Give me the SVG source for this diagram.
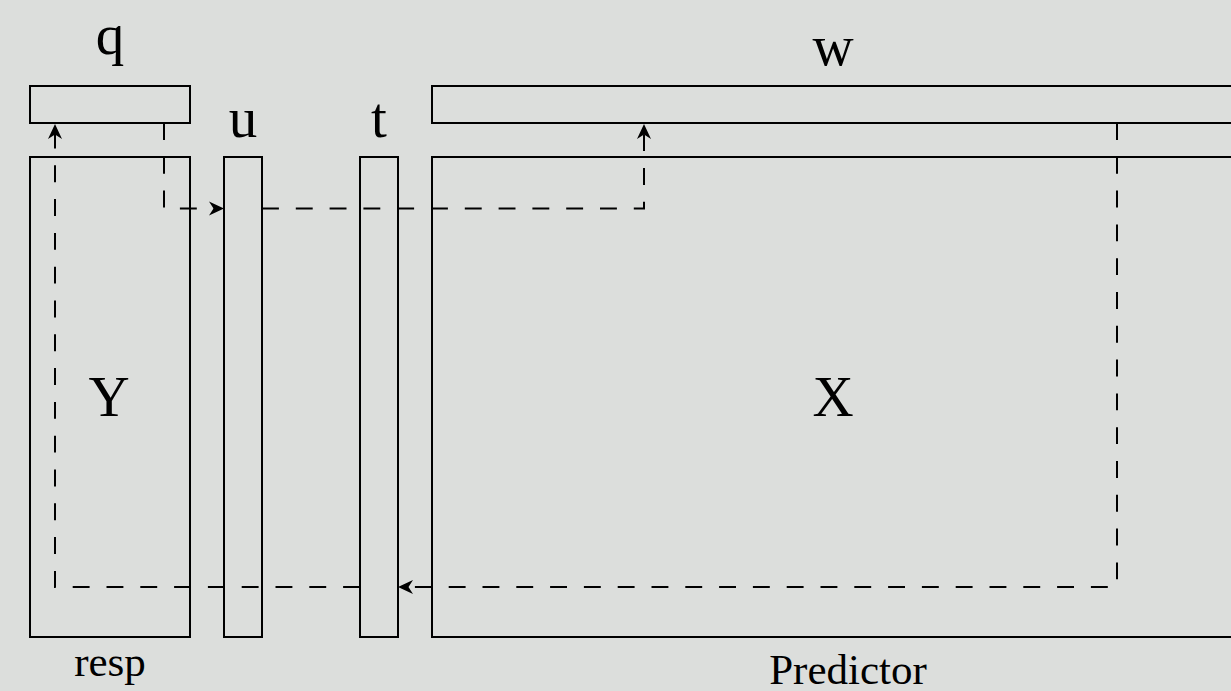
<svg xmlns="http://www.w3.org/2000/svg" width="1231" height="691" viewBox="0 0 1231 691">
<style>
.box{fill:none;stroke:#000;stroke-width:2}
.dash{fill:none;stroke:#000;stroke-width:2;stroke-dasharray:16.9 16.9}
.big{font-family:"Liberation Serif","Times New Roman",serif;font-size:57px;fill:#000;text-anchor:middle}
.small{font-family:"Liberation Serif","Times New Roman",serif;font-size:43px;fill:#000;text-anchor:middle}
</style>
<defs>
<marker id="arr" markerUnits="userSpaceOnUse" markerWidth="30" markerHeight="30" viewBox="-15 -15 30 30" refX="0" refY="0" orient="auto">
<path d="M3,0 L-12,-7 L-7.5,0 L-12,7 Z" fill="#000"/>
</marker>
</defs>
<rect width="1231" height="691" fill="#dcdedc"/>
<g id="q">
<rect class="box" x="30" y="86" width="160" height="37"/>
<text class="big" x="110" y="54">q</text>
</g>
<g id="Y">
<rect class="box" x="30" y="157" width="160" height="480"/>
<text class="big" x="109" y="416">Y</text>
<text class="small" x="110" y="676">resp</text>
</g>
<g id="u">
<rect class="box" x="224" y="157" width="38" height="480"/>
<text class="big" x="243" y="137">u</text>
</g>
<g id="t">
<rect class="box" x="360" y="157" width="38" height="480"/>
<text class="big" x="379" y="137">t</text>
</g>
<g id="w">
<rect class="box" x="432" y="86" width="820" height="37"/>
<text class="big" x="833" y="65">w</text>
</g>
<g id="X">
<rect class="box" x="432" y="157" width="820" height="480"/>
<text class="big" x="833" y="416">X</text>
<text class="small" x="848" y="684">Predictor</text>
</g>
<g id="connectors">
<path class="dash" d="M164,123 V208.5 H221" marker-end="url(#arr)"/>
<path class="dash" d="M262,208.5 H644 V127" marker-end="url(#arr)"/>
<path class="dash" d="M1117,123 V587 H401" marker-end="url(#arr)"/>
<path class="dash" d="M360,587 H55 V127" marker-end="url(#arr)"/>
</g>
</svg>
